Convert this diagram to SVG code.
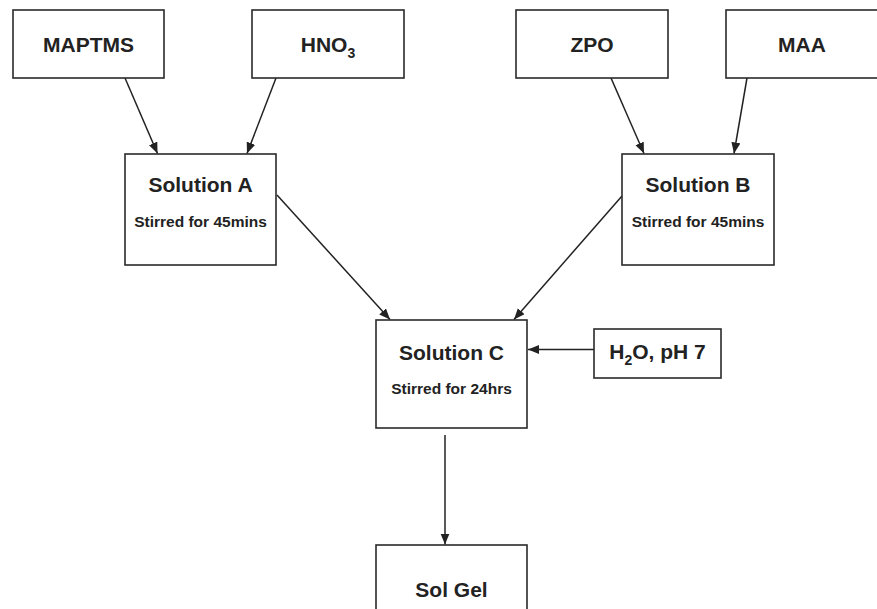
<svg xmlns="http://www.w3.org/2000/svg" width="877" height="609" viewBox="0 0 877 609">
<style>
.box{fill:#fff;stroke:#2a2a2a;stroke-width:1.6}
.t{font-family:"Liberation Sans",Arial,sans-serif;font-weight:bold;fill:#222;text-anchor:middle}
.big{font-size:21px}
.small{font-size:15.5px}
.c{stroke:#222;stroke-width:1.5;fill:none;marker-end:url(#ah)}
</style>
<defs>
<marker id="ah" markerWidth="12" markerHeight="10" refX="11" refY="4.5" orient="auto" markerUnits="userSpaceOnUse">
<path d="M0,0 L11,4.5 L0,9 Z" fill="#222"/>
</marker>
</defs>
<rect width="877" height="609" fill="#fff"/>
<g id="connectors">
<line class="c" x1="125" y1="78" x2="157.5" y2="153.5"/>
<line class="c" x1="276" y1="78" x2="247" y2="153.5"/>
<line class="c" x1="611" y1="78" x2="644" y2="153.5"/>
<line class="c" x1="747" y1="78" x2="734" y2="153.5"/>
<line class="c" x1="277" y1="195" x2="390" y2="319.5"/>
<line class="c" x1="622" y1="196" x2="514" y2="319.5"/>
<line class="c" x1="594" y1="349.5" x2="528" y2="349.5"/>
<line class="c" x1="445" y1="435" x2="445" y2="544.5"/>
</g>
<g id="maptms"><rect class="box" x="13" y="10" width="151" height="68"/><text class="t big" x="88.5" y="52">MAPTMS</text></g>
<g id="hno3"><rect class="box" x="252" y="10" width="152" height="68"/><text class="t big" x="328" y="52">HNO<tspan font-size="14" dy="6">3</tspan></text></g>
<g id="zpo"><rect class="box" x="516" y="10" width="152" height="68"/><text class="t big" x="592" y="52">ZPO</text></g>
<g id="maa"><rect class="box" x="726" y="10" width="152" height="68"/><text class="t big" x="802" y="52">MAA</text></g>
<g id="solA"><rect class="box" x="125" y="154" width="151" height="111"/><text class="t big" x="200.5" y="192">Solution A</text><text class="t small" x="200.5" y="227">Stirred for 45mins</text></g>
<g id="solB"><rect class="box" x="622" y="154" width="152" height="111"/><text class="t big" x="698" y="192">Solution B</text><text class="t small" x="698" y="227">Stirred for 45mins</text></g>
<g id="solC"><rect class="box" x="376" y="320" width="151" height="108"/><text class="t big" x="451.5" y="360">Solution C</text><text class="t small" x="451.5" y="394">Stirred for 24hrs</text></g>
<g id="h2o"><rect class="box" x="594" y="329" width="127" height="49"/><text class="t big" x="657.5" y="359">H<tspan font-size="14" dy="6">2</tspan><tspan dy="-6">O, pH 7</tspan></text></g>
<g id="solgel"><rect class="box" x="376" y="545" width="151" height="80"/><text class="t big" x="451.5" y="597">Sol Gel</text></g>
</svg>
